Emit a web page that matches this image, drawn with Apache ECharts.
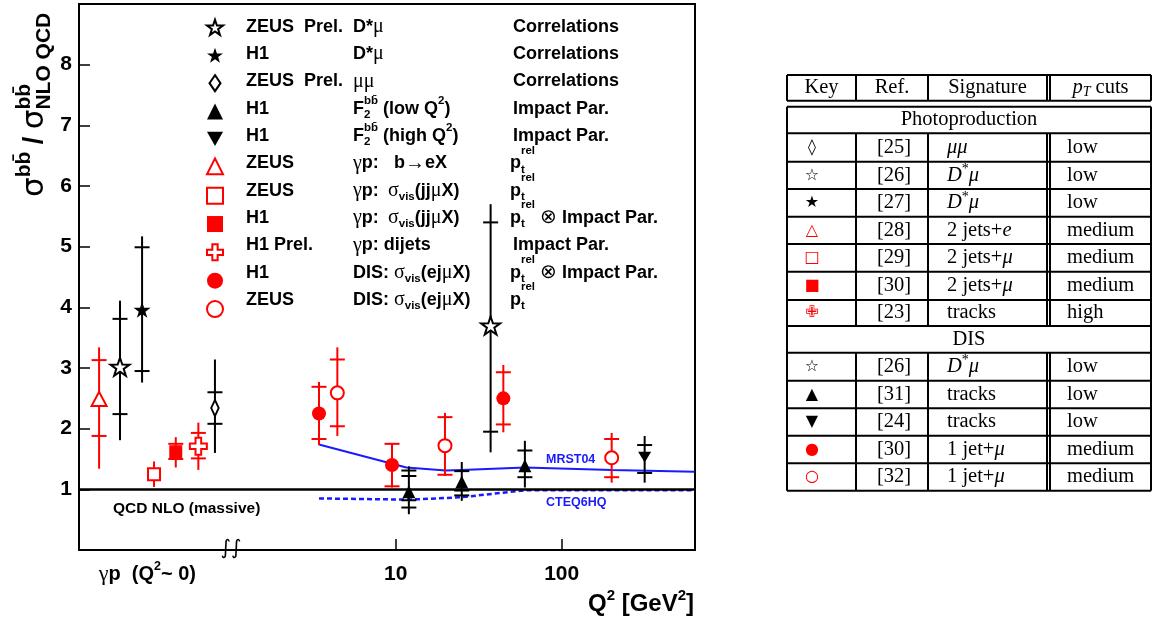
<!DOCTYPE html>
<html>
<head>
<meta charset="utf-8">
<script src="https://cdn.jsdelivr.net/npm/echarts@6.0.0/dist/echarts.min.js"></script>
<style>
html,body{margin:0;padding:0;background:#ffffff;}
#chart{width:1154px;height:618px;}
</style>
</head>
<body>
<div id="chart"></div>
<script>
const lg = Math.log10;

// ---------------- DATA ----------------
// each row: [x position on the axis (log10 Q2; photoproduction points, Q2~0, sit left of the break),
//            ratio, error-line low, error-line high, error tick marks ...]
const zeusPrelDstarMu = [[-0.661, 3.02, 1.81, 4.11, 2.24, 3.81], [lg(37.3), 3.70, 1.61, 5.70, 1.95, 5.40]];
const h1DstarMu       = [[-0.528, 3.96, 2.76, 5.17, 2.95, 4.99]];
const zeusPrelMuMu    = [[-0.089, 2.34, 1.60, 3.14, 2.08, 2.60]];
const h1F2bbLowQ2     = [[lg(12), 0.96, 0.59, 1.38, 0.70, 0.82, 1.22, 1.31],
                         [lg(25), 1.12, 0.81, 1.45, 0.90, 0.98, 1.30],
                         [lg(60), 1.39, 1.03, 1.80, 1.20, 1.64]];
const h1F2bbHighQ2    = [[lg(316), 1.53, 1.11, 1.88, 1.27, 1.73]];
const zeusGpBeX       = [[-0.787, 2.49, 1.34, 3.34, 1.88, 3.13]];
const zeusGpJJmuX     = [[-0.456, 1.25, 1.04, 1.46]];
const h1GpJJmuX       = [[-0.325, 1.62, 1.36, 1.86, 1.50, 1.75]];
const h1PrelGpDijets  = [[-0.189, 1.71, 1.32, 2.10, 1.51, 1.93]];
const h1DisEjmuX      = [[lg(3.45), 2.25, 1.73, 2.77, 1.83, 2.69],
                         [lg(9.5), 1.40, 1.03, 1.76, 1.05, 1.75],
                         [lg(44.5), 2.50, 1.94, 3.05, 2.07, 2.93]];
const zeusDisEjmuX    = [[lg(4.45), 2.59, 1.88, 3.34, 2.04, 3.14],
                         [lg(19.8), 1.72, 1.22, 2.26, 1.24, 2.19],
                         [lg(200), 1.52, 1.11, 1.93, 1.20, 1.83]];

const mrst04Q2   = [3.45, 11.6, 20, 25, 60, 200, 633];
const mrst04Val  = [1.74, 1.36, 1.31, 1.32, 1.36, 1.32, 1.29];
const cteq6hqQ2  = [3.45, 12, 25, 60, 633];
const cteq6hqVal = [0.85, 0.83, 0.87, 0.985, 0.985];

const xTickQ2     = [10, 100];
const yTickLabels = [1, 2, 3, 4, 5, 6, 7, 8];
const gpLabelPos  = -0.496;     // where the "γp (Q²~0)" label sits
const xMin = -0.908, xMax = 2.803;

// legend texts
const legendExp = ['ZEUS  Prel.', 'H1', 'ZEUS  Prel.', 'H1', 'H1', 'ZEUS', 'ZEUS', 'H1', 'H1 Prel.', 'H1', 'ZEUS'];
const legendProcA = ['{b|D*}{g|μ}', '{b|D*}{g|μ}', '{g|μμ}',
  '{b|F}{sub0|2}{sup|bb̄}{b| (low Q}{sup|2}{b|)}', '{b|F}{sub0|2}{sup|bb̄}{b| (high Q}{sup|2}{b|)}',
  '{g|γ}{b|p:}', '{g|γ}{b|p:}', '{g|γ}{b|p:}', '{g|γ}{b|p: dijets}',
  '{b|DIS: }{g|σ}{sub|vis}{b|(ej}{g|μ}{b|X)}', '{b|DIS: }{g|σ}{sub|vis}{b|(ej}{g|μ}{b|X)}'];
const legendProcB = [null, null, null, null, null, '{b|b}{g|→}{b|eX}',
  '{g|σ}{sub|vis}{b|(jj}{g|μ}{b|X)}', '{g|σ}{sub|vis}{b|(jj}{g|μ}{b|X)}', null, null, null];
const legendMethod = ['{b|Correlations}', '{b|Correlations}', '{b|Correlations}', '{b|Impact Par.}', '{b|Impact Par.}',
  '{b|p}{sub0|t}{rel|rel}', '{b|p}{sub0|t}{rel|rel}', '{b|p}{sub0|t}{rel|rel}{b| }{g|⊗}{b| Impact Par.}',
  '{b|Impact Par.}', '{b|p}{sub0|t}{rel|rel}{b| }{g|⊗}{b| Impact Par.}', '{b|p}{sub0|t}{rel|rel}'];

// table
const tblHeader = ['Key', 'Ref.', 'Signature', '{pi|p}{tsub|T}{r| cuts}'];
const tblSections = ['Photoproduction', 'DIS'];
const photoKey = ['◊', '☆', '★', '△', '□', '■', '✙'];
const photoRef = ['[25]', '[26]', '[27]', '[28]', '[29]', '[30]', '[23]'];
const photoSig = ['{i|μμ}', '{i|D}{isup|*}{i|μ}', '{i|D}{isup|*}{i|μ}', '{r|2 jets+}{i|e}', '{r|2 jets+}{i|μ}', '{r|2 jets+}{i|μ}', '{r|tracks}'];
const photoPt  = ['low', 'low', 'low', 'medium', 'medium', 'medium', 'high'];
const disKey = ['☆', '▲', '▼', '●', '○'];
const disRef = ['[26]', '[31]', '[24]', '[30]', '[32]'];
const disSig = ['{i|D}{isup|*}{i|μ}', '{r|tracks}', '{r|tracks}', '{r|1 jet+}{i|μ}', '{r|1 jet+}{i|μ}'];
const disPt  = ['low', 'low', 'low', 'medium', 'medium'];

// ---------------- STYLE ----------------
const FS = "'Liberation Sans', Arial, Helvetica, sans-serif";
const SERIF = "'Liberation Serif', 'Times New Roman', serif";
const DJ = "'DejaVu Sans', sans-serif";
const RED = '#ff0000', BLK = '#000000', BLUE = '#1a1aff';
const CAP = 7.5;

function starPath() {
  let s = 'path://';
  for (let i = 0; i < 10; i++) {
    const a = -Math.PI / 2 + i * Math.PI / 5;
    const rr = i % 2 ? 0.39 : 1;
    s += (i ? 'L' : 'M') + (rr * Math.cos(a)).toFixed(4) + ',' + (rr * Math.sin(a)).toFixed(4);
  }
  return s + 'Z';
}
const STAR = starPath();
const DIAMOND = 'path://M0,-8L5.5,0L0,8L-5.5,0Z';
const CROSS = 'path://M-1,-3L1,-3L1,-1L3,-1L3,1L1,1L1,3L-1,3L-1,1L-3,1L-3,-1L-1,-1Z';
const TRI_DOWN = 'path://M-1,-0.9L1,-0.9L0,0.9Z';

const groups = [
  {name: 'ZEUS Prel. D*μ', rows: zeusPrelDstarMu, color: BLK, symbol: STAR, size: 19, hollow: true},
  {name: 'H1 D*μ', rows: h1DstarMu, color: BLK, symbol: STAR, size: 17, hollow: false},
  {name: 'ZEUS Prel. μμ', rows: zeusPrelMuMu, color: BLK, symbol: DIAMOND, size: [11, 16], hollow: true},
  {name: 'H1 F2bb (low Q2)', rows: h1F2bbLowQ2, color: BLK, symbol: 'triangle', size: [13, 13], hollow: false},
  {name: 'H1 F2bb (high Q2)', rows: h1F2bbHighQ2, color: BLK, symbol: TRI_DOWN, size: [13, 12], hollow: false},
  {name: 'ZEUS γp: b→eX', rows: zeusGpBeX, color: RED, symbol: 'triangle', size: [15, 14], hollow: true},
  {name: 'ZEUS γp: σvis(jjμX)', rows: zeusGpJJmuX, color: RED, symbol: 'rect', size: 12, hollow: true},
  {name: 'H1 γp: σvis(jjμX)', rows: h1GpJJmuX, color: RED, symbol: 'rect', size: 13, hollow: false},
  {name: 'H1 Prel. γp: dijets', rows: h1PrelGpDijets, color: RED, symbol: CROSS, size: 17, hollow: true},
  {name: 'H1 DIS: σvis(ejμX)', rows: h1DisEjmuX, color: RED, symbol: 'circle', size: 14, hollow: false},
  {name: 'ZEUS DIS: σvis(ejμX)', rows: zeusDisEjmuX, color: RED, symbol: 'circle', size: 13, hollow: true}
];

function errorSeries(g) {
  const rows = g.rows;
  return {
    type: 'custom', name: g.name + ' errors', silent: true, z: 2, clip: false,
    data: rows.map(r => [r[0], r[2], r[3]]),
    encode: {x: 0, y: [1, 2]},
    renderItem: function (params, api) {
      const r = rows[params.dataIndex];
      const a = api.coord([r[0], r[2]]), b = api.coord([r[0], r[3]]);
      const kids = [{type: 'line', shape: {x1: a[0], y1: a[1], x2: b[0], y2: b[1]}, style: {stroke: g.color, lineWidth: 2}}];
      for (let k = 4; k < r.length; k++) {
        const p = api.coord([r[0], r[k]]);
        kids.push({type: 'line', shape: {x1: p[0] - CAP, y1: p[1], x2: p[0] + CAP, y2: p[1]}, style: {stroke: g.color, lineWidth: 2}});
      }
      return {type: 'group', children: kids};
    }
  };
}
function markerSeries(g) {
  return {
    type: 'scatter', name: g.name, z: 3, symbol: g.symbol, symbolSize: g.size, symbolKeepAspect: true,
    data: g.rows.map(r => [r[0], r[1]]),
    itemStyle: g.hollow ? {color: '#ffffff', borderColor: g.color, borderWidth: 2, opacity: 1}
                        : {color: g.color, borderWidth: 0, opacity: 1},
    emphasis: {disabled: true}
  };
}

const series = [];
series.push({
  type: 'line', name: 'MRST04', z: 1, silent: true, showSymbol: false,
  data: mrst04Q2.map((q, i) => [lg(q), mrst04Val[i]]),
  lineStyle: {color: BLUE, width: 2}
});
series.push({
  type: 'line', name: 'CTEQ6HQ', z: 1, silent: true, showSymbol: false,
  data: cteq6hqQ2.map((q, i) => [lg(q), cteq6hqVal[i]]),
  lineStyle: {color: BLUE, width: 2.5, type: [5, 3]}
});
series.push({
  type: 'line', name: 'QCD NLO', z: 2, silent: true, data: [],
  markLine: {silent: true, symbol: ['none', 'none'], animation: false, label: {show: false},
    lineStyle: {color: '#000', width: 2.5, type: 'solid'}, data: [{yAxis: 1}]}
});
groups.forEach(g => { series.push(errorSeries(g)); });
groups.forEach(g => { series.push(markerSeries(g)); });

// ---------------- GRAPHICS (texts, table) ----------------
const G = [];
function txt(x, y, text, rich, align, extra) {
  G.push(Object.assign({type: 'text', x: x, y: y, silent: true,
    style: {text: text, rich: rich, align: align || 'left', verticalAlign: 'middle'}}, extra || {}));
}
function hline(x1, x2, y, w) { G.push({type: 'line', silent: true, shape: {x1: x1, y1: y, x2: x2, y2: y}, style: {stroke: '#000', lineWidth: w || 2}}); }
function vline(x, y1, y2, w) { G.push({type: 'line', silent: true, shape: {x1: x, y1: y1, x2: x, y2: y2}, style: {stroke: '#000', lineWidth: w || 2}}); }

// y axis title (rotated)
const yTitleRich = {
  s:   {fontFamily: DJ, fontSize: 31, lineHeight: 48, fill: '#000'},
  sl:  {fontFamily: FS, fontWeight: 'bold', fontSize: 27, lineHeight: 48, fill: '#000'},
  sup: {fontFamily: FS, fontWeight: 'bold', fontSize: 21, lineHeight: 48, padding: [0, 0, 22, 0], fill: '#000'},
  sup0:{fontFamily: FS, fontWeight: 'bold', fontSize: 21, lineHeight: 48, padding: [0, 0, 22, 0], width: 0, fill: '#000'},
  sub: {fontFamily: FS, fontWeight: 'bold', fontSize: 21, lineHeight: 48, padding: [18, 0, 0, 0], fill: '#000'}
};
txt(35, 197, '{s|σ}{sup|bb̄}{sl| / }{s|σ}{sup0|bb̄}{sub|NLO QCD}', yTitleRich, 'left', {rotation: Math.PI / 2});

// legend texts
const LEG_LH = 30;
const legRich = {
  b:    {fontFamily: FS, fontWeight: 'bold', fontSize: 18, lineHeight: LEG_LH, fill: '#000'},
  g:    {fontFamily: SERIF, fontSize: 20, lineHeight: LEG_LH, fill: '#000'},
  sup:  {fontFamily: FS, fontWeight: 'bold', fontSize: 11.5, lineHeight: LEG_LH, padding: [0, 0, 16, 0], fill: '#000'},
  rel:  {fontFamily: FS, fontWeight: 'bold', fontSize: 11.5, lineHeight: LEG_LH, padding: [0, 0, 26, 0], fill: '#000'},
  sub:  {fontFamily: FS, fontWeight: 'bold', fontSize: 11.5, lineHeight: LEG_LH, padding: [12, 0, 0, 0], fill: '#000'},
  sub0: {fontFamily: FS, fontWeight: 'bold', fontSize: 11.5, lineHeight: LEG_LH, padding: [12, 0, 0, 0], width: 0, fill: '#000'}
};
const LEG_Y0 = 26.7, LEG_DY = 27.33;
const procBX = {5: 394, 6: 388, 7: 388};
for (let i = 0; i < legendExp.length; i++) {
  const y = LEG_Y0 + i * LEG_DY;
  txt(246, y, '{b|' + legendExp[i] + '}', legRich);
  txt(353, y, legendProcA[i], legRich);
  if (legendProcB[i]) txt(procBX[i], y, legendProcB[i], legRich);
  txt(i >= 5 && i !== 8 ? 510 : 513, y, legendMethod[i], legRich);
}

// annotations inside the frame
txt(113, 509, '{b|QCD NLO (massive)}', {b: {fontFamily: FS, fontWeight: 'bold', fontSize: 15.5, fill: '#000'}});
txt(546, 460, '{b|MRST04}', {b: {fontFamily: FS, fontWeight: 'bold', fontSize: 12.5, fill: BLUE}});
txt(546, 503, '{b|CTEQ6HQ}', {b: {fontFamily: FS, fontWeight: 'bold', fontSize: 12.5, fill: BLUE}});
txt(231, 549, '{b|∫∫}', {b: {fontFamily: DJ, fontSize: 20, fill: '#000'}}, 'center');
// x axis title
txt(694, 604, '{b|Q}{sup|2}{b| [GeV}{sup|2}{b|]}', {
  b:   {fontFamily: FS, fontWeight: 'bold', fontSize: 24, lineHeight: 32, fill: '#000'},
  sup: {fontFamily: FS, fontWeight: 'bold', fontSize: 15, lineHeight: 32, padding: [0, 0, 16, 0], fill: '#000'}
}, 'right');

// table
const TBL_L = 787, TBL_R = 1151;
const TBL_COLS = [856, 928, 1047, 1050];
const HDR_T = 75, HDR_B = 100.7;
const BODY = [106.7, 133.3, 161.7, 189, 216.7, 244, 271.7, 300, 326, 352.7, 380.7, 408.3, 435.7, 463.3, 490.7];
const tRich = {
  r:    {fontFamily: SERIF, fontSize: 20.5, lineHeight: 26, fill: '#000'},
  i:    {fontFamily: SERIF, fontStyle: 'italic', fontSize: 20.5, lineHeight: 26, fill: '#000'},
  pi:   {fontFamily: SERIF, fontStyle: 'italic', fontSize: 20.5, lineHeight: 26, fill: '#000'},
  isup: {fontFamily: SERIF, fontSize: 14, lineHeight: 26, padding: [0, 0, 12, 0], fill: '#000'},
  tsub: {fontFamily: SERIF, fontStyle: 'italic', fontSize: 14, lineHeight: 26, padding: [9, 0, 0, 0], fill: '#000'}
};
hline(TBL_L, TBL_R, HDR_T); hline(TBL_L, TBL_R, HDR_B);
vline(TBL_L, HDR_T, HDR_B); vline(TBL_R, HDR_T, HDR_B);
TBL_COLS.forEach(c => vline(c, HDR_T, HDR_B));
BODY.forEach(y => hline(TBL_L, TBL_R, y));
vline(TBL_L, BODY[0], BODY[BODY.length - 1]); vline(TBL_R, BODY[0], BODY[BODY.length - 1]);
TBL_COLS.forEach(c => { vline(c, BODY[1], BODY[8]); vline(c, BODY[9], BODY[14]); });

const colCenters = [(TBL_L + TBL_COLS[0]) / 2, (TBL_COLS[0] + TBL_COLS[1]) / 2, (TBL_COLS[1] + TBL_COLS[2]) / 2, (TBL_COLS[3] + TBL_R) / 2];
tblHeader.forEach((h, k) => txt(colCenters[k], (HDR_T + HDR_B) / 2, h.indexOf('{') === 0 ? h : '{r|' + h + '}', tRich, 'center'));
txt((TBL_L + TBL_R) / 2, (BODY[0] + BODY[1]) / 2, '{r|' + tblSections[0] + '}', tRich, 'center');
txt((TBL_L + TBL_R) / 2, (BODY[8] + BODY[9]) / 2, '{r|' + tblSections[1] + '}', tRich, 'center');
const photoKeyColor = [BLK, BLK, BLK, RED, RED, RED, RED];
const disKeyColor = [BLK, BLK, BLK, RED, RED];
function tableRow(rowTop, rowBot, key, keyColor, ref, sig, pt) {
  const y = (rowTop + rowBot) / 2;
  txt(812, y, '{k|' + key + '}', {k: {fontFamily: DJ, fontWeight: 'bold', fontSize: 16, fill: keyColor}}, 'center');
  txt(colCenters[1] + 2, y, '{r|' + ref + '}', tRich, 'center');
  txt(947, y, sig, tRich);
  txt(1067, y, '{r|' + pt + '}', tRich);
}
for (let i = 0; i < photoKey.length; i++) tableRow(BODY[1 + i], BODY[2 + i], photoKey[i], photoKeyColor[i], photoRef[i], photoSig[i], photoPt[i]);
for (let i = 0; i < disKey.length; i++) tableRow(BODY[9 + i], BODY[10 + i], disKey[i], disKeyColor[i], disRef[i], disSig[i], disPt[i]);

// ---------------- OPTION ----------------
const option = {
  animation: false,
  backgroundColor: '#ffffff',
  grid: {left: 79, right: 459, top: 4, bottom: 68, show: true, borderColor: '#000', borderWidth: 2,
         backgroundColor: 'rgba(0,0,0,0)', outerBoundsMode: 'none'},
  xAxis: {
    type: 'value', min: xMin, max: xMax,
    axisLine: {show: false, onZero: false}, splitLine: {show: false},
    axisTick: {show: true, inside: true, length: 11, customValues: xTickQ2.map(lg), lineStyle: {color: '#000', width: 1.5}},
    axisLabel: {
      show: true, margin: 11, customValues: [gpLabelPos].concat(xTickQ2.map(lg)),
      formatter: function (v) {
        if (v < 0) return '{g|γ}{b|p  (Q}{sup|2}{b|~ 0)}';
        return '{n|' + Math.round(Math.pow(10, v)) + '}';
      },
      rich: {
        g:   {fontFamily: SERIF, fontSize: 22, lineHeight: 26, color: '#000'},
        b:   {fontFamily: FS, fontWeight: 'bold', fontSize: 20, lineHeight: 26, color: '#000'},
        sup: {fontFamily: FS, fontWeight: 'bold', fontSize: 12.5, lineHeight: 26, padding: [0, 0, 14, 0], color: '#000'},
        n:   {fontFamily: FS, fontWeight: 'bold', fontSize: 21, lineHeight: 26, color: '#000'}
      }
    }
  },
  yAxis: {
    type: 'value', min: 0, max: 9, interval: 1,
    axisLine: {show: false, onZero: false}, splitLine: {show: false},
    axisTick: {show: true, inside: true, length: 11, lineStyle: {color: '#000', width: 1.5}},
    axisLabel: {margin: 7, fontFamily: FS, fontWeight: 'bold', fontSize: 21, color: '#000',
      formatter: v => (yTickLabels.indexOf(v) >= 0 ? String(v) : '')}
  },
  legend: {
    data: groups.map(g => g.name), orient: 'vertical', left: 206, top: 18.7,
    itemWidth: 16, itemHeight: 16, itemGap: 11.33, padding: 0, selectedMode: false,
    formatter: () => '', textStyle: {fontSize: 8}
  },
  series: series,
  graphic: G
};

const chart = echarts.init(document.getElementById('chart'), null, {renderer: 'canvas'});
chart.setOption(option);
</script>
</body>
</html>
